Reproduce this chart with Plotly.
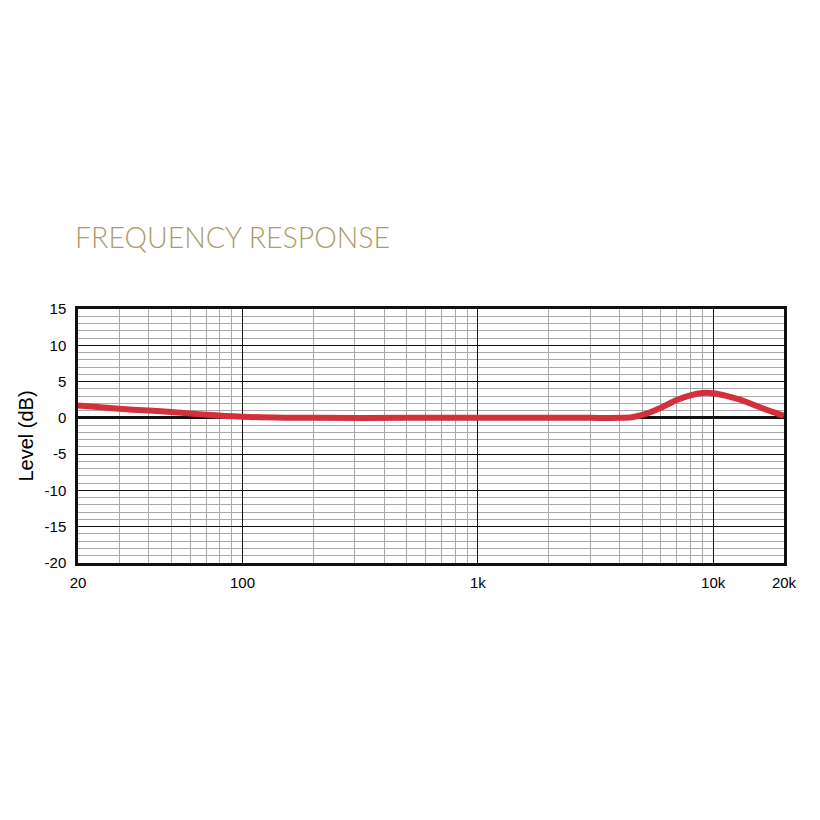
import plotly.graph_objects as go

freq_hz = [20, 30, 40, 50, 70, 100, 150, 200, 500, 1000, 2000, 3000, 4000, 4500, 5000, 6000, 7000, 8000, 9000, 10000, 11500, 13000, 16000, 18000, 20000]
level_db = [1.7, 1.25, 1.0, 0.8, 0.42, 0.15, 0.03, 0.0, 0.0, 0.0, 0.0, 0.0, 0.0, 0.08, 0.4, 1.4, 2.45, 3.1, 3.42, 3.4, 3.0, 2.5, 1.4, 0.8, 0.3]

x_major_vals = [20, 100, 1000, 10000, 20000]
x_major_text = ["20", "100", "1k", "10k", "20k"]
x_minor_vals = [30, 40, 50, 60, 70, 80, 90,
                200, 300, 400, 500, 600, 700, 800, 900,
                2000, 3000, 4000, 5000, 6000, 7000, 8000, 9000]
y_tick_vals = [-20, -15, -10, -5, 0, 5, 10, 15]
y_tick_text = ["-20", "-15", "-10", "-5", "0", "5", "10", "15"]

title_text = "FREQUENCY RESPONSE"
y_title = "Level (dB)"

fig = go.Figure()
fig.add_trace(go.Scatter(
    x=freq_hz, y=level_db, mode="lines",
    line=dict(color="#d2303a", width=6, shape="spline", smoothing=0.8),
    hoverinfo="skip", showlegend=False,
))

fig.update_layout(
    width=820, height=820,
    margin=dict(l=70, r=44, t=301, b=265),
    paper_bgcolor="white", plot_bgcolor="white",
    xaxis=dict(
        type="log", range=[1.30103, 4.30103],
        tickmode="array", tickvals=x_major_vals, ticktext=x_major_text,
        showgrid=True, gridcolor="#111111", gridwidth=1.2,
        minor=dict(tickmode="array", tickvals=x_minor_vals, showgrid=True,
                   gridcolor="#a8a8a8", gridwidth=1, ticks=""),
        showline=True, linecolor="#111111", linewidth=2.5, mirror=True,
        ticks="", ticklabelstandoff=4,
        tickfont=dict(family="Liberation Sans, Arial", size=15, color="#000000"),
        zeroline=False, fixedrange=True,
    ),
    yaxis=dict(
        range=[-20, 15], tickmode="array", tickvals=y_tick_vals, ticktext=y_tick_text,
        showgrid=True, gridcolor="#111111", gridwidth=1.2,
        minor=dict(tickmode="linear", tick0=-20, dtick=1, showgrid=True, gridcolor="#a8a8a8", gridwidth=1, ticks=""),
        zeroline=True, zerolinecolor="#111111", zerolinewidth=3,
        showline=True, linecolor="#111111", linewidth=2.5, mirror=True,
        ticks="", ticklabelstandoff=6,
        tickfont=dict(family="Liberation Sans, Arial", size=15, color="#000000"),
        title=dict(text=y_title, font=dict(family="Liberation Sans, Arial", size=20, color="#000000"), standoff=6),
        fixedrange=True,
    ),
    annotations=[dict(
        text=title_text, xref="paper", yref="paper", x=0, y=1.285, xshift=-5,
        xanchor="left", yanchor="middle", showarrow=False,
        font=dict(family="Lato, Noto Sans", size=28.5, color="#aa9c6c", weight=300),
    )],
)

fig.write_html("out.html")
